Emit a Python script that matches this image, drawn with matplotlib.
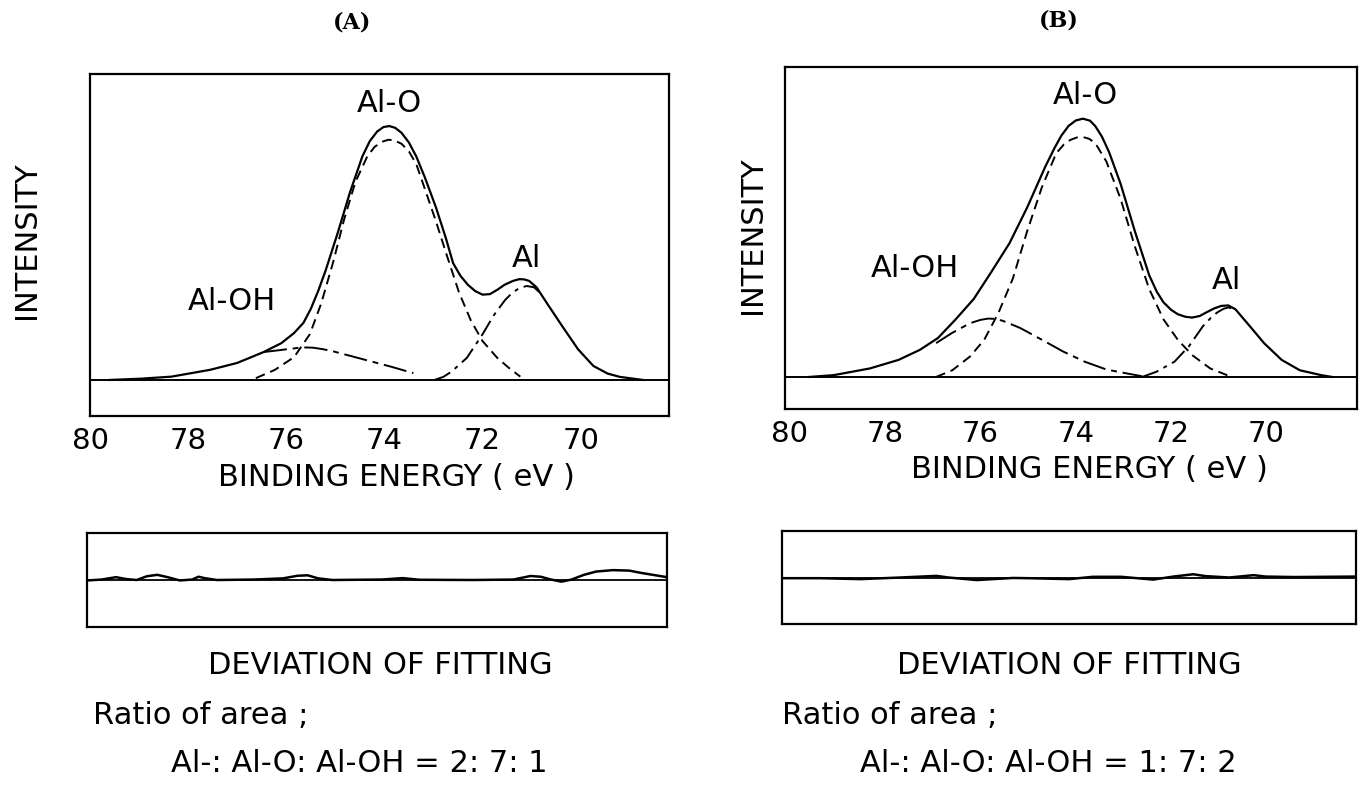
import matplotlib.pyplot as plt

# ---- data (binding energy in eV, intensity normalised to main peak) ----
# Panel A
a_sum_e = [79.6, 78.96, 78.34, 77.55, 77.0, 76.46, 76.1, 75.84, 75.65, 75.5, 75.35, 75.2, 74.95,
           74.7, 74.45, 74.3, 74.15, 74.02, 73.9, 73.78, 73.65, 73.5, 73.35, 73.18, 72.95, 72.75,
           72.6, 72.45, 72.3, 72.15, 72.0, 71.85, 71.7, 71.55, 71.38, 71.25, 71.15, 71.05, 70.9,
           70.68, 70.37, 70.05, 69.74, 69.45, 69.2, 68.73]
a_sum_i = [0.0, 0.005, 0.013, 0.04, 0.067, 0.11, 0.145, 0.185, 0.225, 0.28, 0.35, 0.43, 0.58,
           0.74, 0.88, 0.94, 0.978, 0.996, 1.0, 0.993, 0.973, 0.935, 0.88, 0.8, 0.68, 0.56,
           0.46, 0.41, 0.375, 0.35, 0.336, 0.338, 0.355, 0.375, 0.39, 0.397, 0.396, 0.39, 0.365,
           0.3, 0.21, 0.12, 0.055, 0.025, 0.012, 0.0]
a_alo_e = [76.62, 76.23, 75.84, 75.52, 75.29, 75.05, 74.82, 74.59, 74.35, 74.2, 74.05, 73.92,
           73.8, 73.65, 73.5, 73.35, 73.18, 72.95, 72.71, 72.48, 72.24, 72.0, 71.7, 71.46, 71.23]
a_alo_i = [0.007, 0.04, 0.09, 0.18, 0.3, 0.46, 0.633, 0.78, 0.88, 0.918, 0.938, 0.946,
           0.944, 0.93, 0.9, 0.85, 0.755, 0.625, 0.48, 0.345, 0.235, 0.153, 0.087, 0.047, 0.013]
a_al_e = [72.98, 72.8, 72.63, 72.32, 72.0, 71.77, 71.54, 71.4, 71.25, 71.1, 70.95, 70.84]
a_al_i = [0.0, 0.012, 0.033, 0.087, 0.18, 0.255, 0.315, 0.342, 0.362, 0.37, 0.365, 0.345]
a_oh_e = [76.46, 76.15, 75.95, 75.76, 75.6, 75.45, 75.25, 75.05, 74.66, 74.27, 73.88, 73.41]
a_oh_i = [0.11, 0.117, 0.122, 0.126, 0.128, 0.127, 0.121, 0.113, 0.093, 0.073, 0.053, 0.027]
a_dev_e = [80.0, 79.7, 79.41, 79.2, 78.99, 78.78, 78.57, 78.36, 78.11, 77.86, 77.73, 77.61,
           77.36, 76.6, 76.01, 75.72, 75.51, 75.3, 75.01, 74.0, 73.58, 73.24, 72.15, 71.32,
           70.98, 70.77, 70.56, 70.35, 70.14, 69.89, 69.64, 69.3, 68.97, 68.72, 68.2]
a_dev_v = [-0.01, 0.01, 0.06, 0.02, 0.0, 0.08, 0.11, 0.06, -0.01, 0.01, 0.07, 0.04,
           0.0, 0.01, 0.035, 0.09, 0.1, 0.035, 0.0, 0.01, 0.04, 0.005, 0.0, 0.01,
           0.085, 0.07, 0.01, -0.035, 0.01, 0.11, 0.18, 0.21, 0.2, 0.15, 0.06]

# Panel B
b_sum_e = [79.6, 79.08, 78.32, 77.72, 77.27, 76.89, 76.52, 76.14, 75.77, 75.39, 75.02, 74.64,
           74.45, 74.3, 74.15, 74.0, 73.85, 73.7, 73.59, 73.45, 73.3, 73.06, 72.76, 72.46, 72.3,
           72.16, 72.0, 71.86, 71.7, 71.56, 71.4, 71.26, 71.1, 70.95, 70.8, 70.65, 70.35, 70.05,
           69.68, 69.3, 68.85, 68.62]
b_sum_i = [0.0, 0.007, 0.033, 0.066, 0.105, 0.151, 0.223, 0.302, 0.407, 0.518, 0.656, 0.814,
           0.885, 0.935, 0.972, 0.993, 1.0, 0.992, 0.971, 0.93, 0.87, 0.748, 0.564, 0.394, 0.33,
           0.289, 0.26, 0.243, 0.233, 0.23, 0.236, 0.25, 0.265, 0.275, 0.277, 0.262, 0.197, 0.131,
           0.066, 0.026, 0.007, 0.0]
b_alo_e = [76.93, 76.59, 76.22, 75.92, 75.62, 75.32, 75.02, 74.71, 74.41, 74.25, 74.11, 73.98,
           73.85, 73.72, 73.59, 73.36, 73.06, 72.76, 72.46, 72.16, 71.86, 71.56, 71.18, 70.73]
b_alo_i = [0.0, 0.026, 0.079, 0.144, 0.249, 0.381, 0.564, 0.735, 0.866, 0.9, 0.918, 0.927,
           0.929, 0.922, 0.905, 0.835, 0.69, 0.505, 0.341, 0.223, 0.144, 0.085, 0.033, 0.0]
b_al_e = [72.61, 72.31, 71.93, 71.63, 71.33, 71.15, 71.03, 70.9, 70.8, 70.65]
b_al_i = [0.0, 0.02, 0.059, 0.118, 0.197, 0.232, 0.25, 0.264, 0.269, 0.262]
b_oh_e = [76.93, 76.59, 76.22, 76.0, 75.84, 75.7, 75.54, 75.17, 74.71, 74.26, 73.81, 73.36,
          72.91, 72.61]
b_oh_i = [0.131, 0.171, 0.208, 0.221, 0.226, 0.225, 0.218, 0.19, 0.144, 0.098, 0.059, 0.029,
          0.013, 0.003]
b_dev_e = [80.1, 79.3, 78.46, 77.62, 76.87, 76.62, 76.03, 75.27, 74.94, 74.1, 73.6, 73.01,
           72.34, 71.92, 71.5, 71.25, 70.75, 70.24, 69.99, 69.4, 68.1]
b_dev_v = [-0.015, -0.015, -0.035, 0.0, 0.035, 0.0, -0.055, -0.01, -0.015, -0.035, 0.015, 0.015,
           -0.045, 0.02, 0.07, 0.03, 0.0, 0.05, 0.02, 0.01, 0.02]

ticks = [80, 78, 76, 74, 72, 70]
ratio_a = "Al-: Al-O: Al-OH = 2: 7: 1"
ratio_b = "Al-: Al-O: Al-OH = 1: 7: 2"

W, H = 1366, 789
fig = plt.figure(figsize=(W / 100, H / 100), dpi=100)
plt.rcParams['font.family'] = ['DejaVu Sans']


def box(l, t, r, b):
    return [l / W, 1 - b / H, (r - l) / W, (b - t) / H]


def ftext(x, y, s, **kw):
    fig.text(x / W, 1 - y / H, s, ha=kw.pop('ha', 'center'), va=kw.pop('va', 'center'), **kw)


ls_alo = (0, (5, 3))
ls_al = (0, (9, 3, 2, 3))
ls_oh = (0, (12, 3, 3, 3))
fs = 22


def main_panel(ax, xlim, ylim, s_e, s_i, o_e, o_i, al_e, al_i, oh_e, oh_i, labels):
    ax.plot(s_e, s_i, color='black', lw=1.6)
    ax.plot(o_e, o_i, color='black', lw=1.4, ls=ls_alo)
    ax.plot(al_e, al_i, color='black', lw=1.4, ls=ls_al)
    ax.plot(oh_e, oh_i, color='black', lw=1.4, ls=ls_oh)
    ax.axhline(0, color='black', lw=1.4)
    ax.set_xlim(*xlim)
    ax.set_ylim(*ylim)
    ax.set_yticks([])
    ax.set_xticks(ticks)
    ax.set_xticklabels([str(t) for t in ticks], fontsize=21)
    ax.tick_params(axis='x', length=0, pad=8)
    for sp in ax.spines.values():
        sp.set_linewidth(1.6)
    for txt, x, y in labels:
        ax.text(x, y, txt, fontsize=fs, ha='center', va='center')


def dev_panel(ax, xlim, d_e, d_v):
    ax.axhline(0, color='black', lw=1.3)
    ax.plot(d_e, d_v, color='black', lw=1.8)
    ax.set_xlim(*xlim)
    ax.set_ylim(-1, 1)
    ax.set_xticks([])
    ax.set_yticks([])
    for sp in ax.spines.values():
        sp.set_linewidth(1.6)


ax_a = fig.add_axes(box(90, 74, 669, 416))
main_panel(ax_a, (80.0, 68.2), (-0.142, 1.205), a_sum_e, a_sum_i, a_alo_e, a_alo_i,
           a_al_e, a_al_i, a_oh_e, a_oh_i,
           [("Al-O", 73.9, 1.087), ("Al", 71.1, 0.48), ("Al-OH", 77.1, 0.307)])
ax_b = fig.add_axes(box(785, 67, 1357, 409))
main_panel(ax_b, (80.1, 68.1), (-0.124, 1.2), b_sum_e, b_sum_i, b_alo_e, b_alo_i,
           b_al_e, b_al_i, b_oh_e, b_oh_i,
           [("Al-O", 73.8, 1.09), ("Al", 70.84, 0.374), ("Al-OH", 77.38, 0.42)])

dev_a = fig.add_axes(box(87, 533, 667, 627))
dev_panel(dev_a, (80.0, 68.2), a_dev_e, a_dev_v)
dev_b = fig.add_axes(box(782, 531, 1356, 624))
dev_panel(dev_b, (80.1, 68.1), b_dev_e, b_dev_v)

ftext(352, 22, "(A)", fontsize=16, fontweight='bold', family='DejaVu Serif')
ftext(1059, 20, "(B)", fontsize=16, fontweight='bold', family='DejaVu Serif')
ftext(27, 240, "INTENSITY", fontsize=fs, rotation=90)
ftext(752, 235, "INTENSITY", fontsize=fs, rotation=90)
ftext(396, 478, "BINDING ENERGY ( eV )", fontsize=fs)
ftext(1089, 470, "BINDING ENERGY ( eV )", fontsize=fs)
ftext(380, 665, "DEVIATION OF FITTING", fontsize=fs)
ftext(1069, 665, "DEVIATION OF FITTING", fontsize=fs)
ftext(93, 716, "Ratio of area ;", fontsize=fs, ha='left')
ftext(782, 716, "Ratio of area ;", fontsize=fs, ha='left')
ftext(171, 763, ratio_a, fontsize=fs, ha='left')
ftext(860, 763, ratio_b, fontsize=fs, ha='left')

fig.savefig("out.png", dpi=100)
